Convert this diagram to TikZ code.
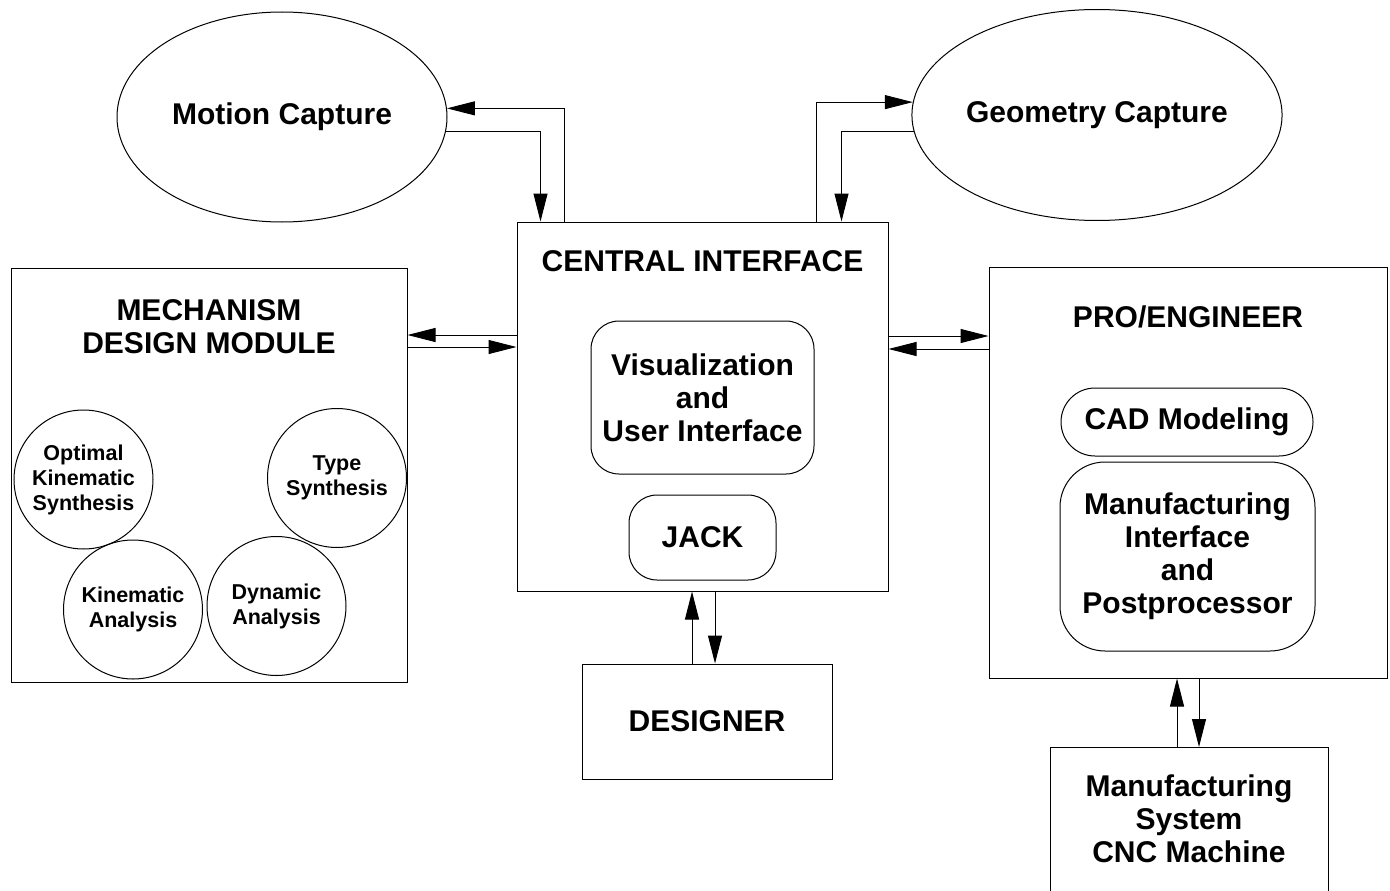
\documentclass[tikz,border=0pt]{standalone}
\usepackage{fontspec}
\setmainfont{Liberation Sans}
\usetikzlibrary{shapes.geometric,arrows.meta}
\newcommand{\bigfont}{\fontsize{30}{33}\selectfont\bfseries}
\newcommand{\smallfont}{\fontsize{21.5}{25}\selectfont\bfseries}
\newcommand{\drawarrow}{\draw[line width=1pt,-{Triangle[length=28pt,width=14pt]}]}
\tikzset{
  box/.style={draw, line width=1pt, inner sep=0pt},
  roundbox/.style={box, rounded corners=#1},
  bubble/.style={box, circle, minimum size=139pt, font=\smallfont}
}
\begin{document}
\begin{tikzpicture}[x=1pt,y=-1pt,font=\bigfont,align=center]
\clip (0,0) rectangle (1390,891);
\node[box,ellipse,minimum width=330pt,minimum height=210pt] (mc) at (282,117) {Motion Capture};
\node[box,ellipse,minimum width=330pt,minimum height=211pt] (gc) at (1097,115) {Geometry Capture};

\node[box,minimum width=371pt,minimum height=369pt] (ci) at (702.5,406.5) {};
\node (citxt) at (702.5,261) {CENTRAL INTERFACE};
\node[roundbox=28pt,minimum width=223pt,minimum height=153pt] (vis) at (702.5,397.5) {Visualization\\and\\User Interface};
\node[roundbox=28pt,minimum width=147pt,minimum height=85pt] (jack) at (702.5,537.5) {JACK};
\node[box,minimum width=250pt,minimum height=115pt] (des) at (707,721.5) {DESIGNER};

\node[box,minimum width=396pt,minimum height=414pt] (mdm) at (209,475) {};
\node (mdmtxt) at (209,327) {MECHANISM\\DESIGN MODULE};
\node[bubble] (opt) at (83.5,479.5) {Optimal\\Kinematic\\Synthesis};
\node[bubble] (typ) at (337,478) {Type\\Synthesis};
\node[bubble] (kin) at (133,609.5) {Kinematic\\Analysis};
\node[bubble] (dyn) at (276.5,606) {Dynamic\\Analysis};

\node[box,minimum width=398pt,minimum height=411pt] (pro) at (1188,472.5) {};
\node (protxt) at (1188,317) {PRO/ENGINEER};
\node[roundbox=34pt,minimum width=252pt,minimum height=68pt] (cad) at (1187,422) {CAD Modeling};
\node[roundbox=45pt,minimum width=255pt,minimum height=189pt] (mfi) at (1187.5,556.5) {Manufacturing\\Interface\\and\\Postprocessor};
\node[box,minimum width=278pt,minimum height=200pt,anchor=north] (cnc) at (1189,747) {};
\node (cnctxt) at (1189,819) {Manufacturing\\System\\CNC Machine};

\drawarrow ([xshift=48pt]ci.north west) |- (mc.3.5);
\drawarrow (mc.-5) -| ([xshift=24pt]ci.north west);
\drawarrow ([xshift=300pt]ci.north west) |- (gc.176.5);
\drawarrow (gc.185.6) -| ([xshift=325pt]ci.north west);
\drawarrow ([yshift=71.5pt]ci.west) -- ([yshift=71.5pt]ci.west -| mdm.east);
\drawarrow ([yshift=59.5pt]ci.west -| mdm.east) -- ([yshift=59.5pt]ci.west);
\drawarrow ([yshift=70.5pt]ci.east) -- ([yshift=70.5pt]ci.east -| pro.west);
\drawarrow ([yshift=57.5pt]ci.east -| pro.west) -- ([yshift=57.5pt]ci.east);
\drawarrow ([xshift=-15pt]des.north) -- ([xshift=-15pt]des.north |- ci.south);
\drawarrow ([xshift=8pt]des.north |- ci.south) -- ([xshift=8pt]des.north);
\drawarrow ([xshift=-12pt]cnc.north) -- ([xshift=-12pt]cnc.north |- pro.south);
\drawarrow ([xshift=10pt]cnc.north |- pro.south) -- ([xshift=10pt]cnc.north);
\end{tikzpicture}
\end{document}
